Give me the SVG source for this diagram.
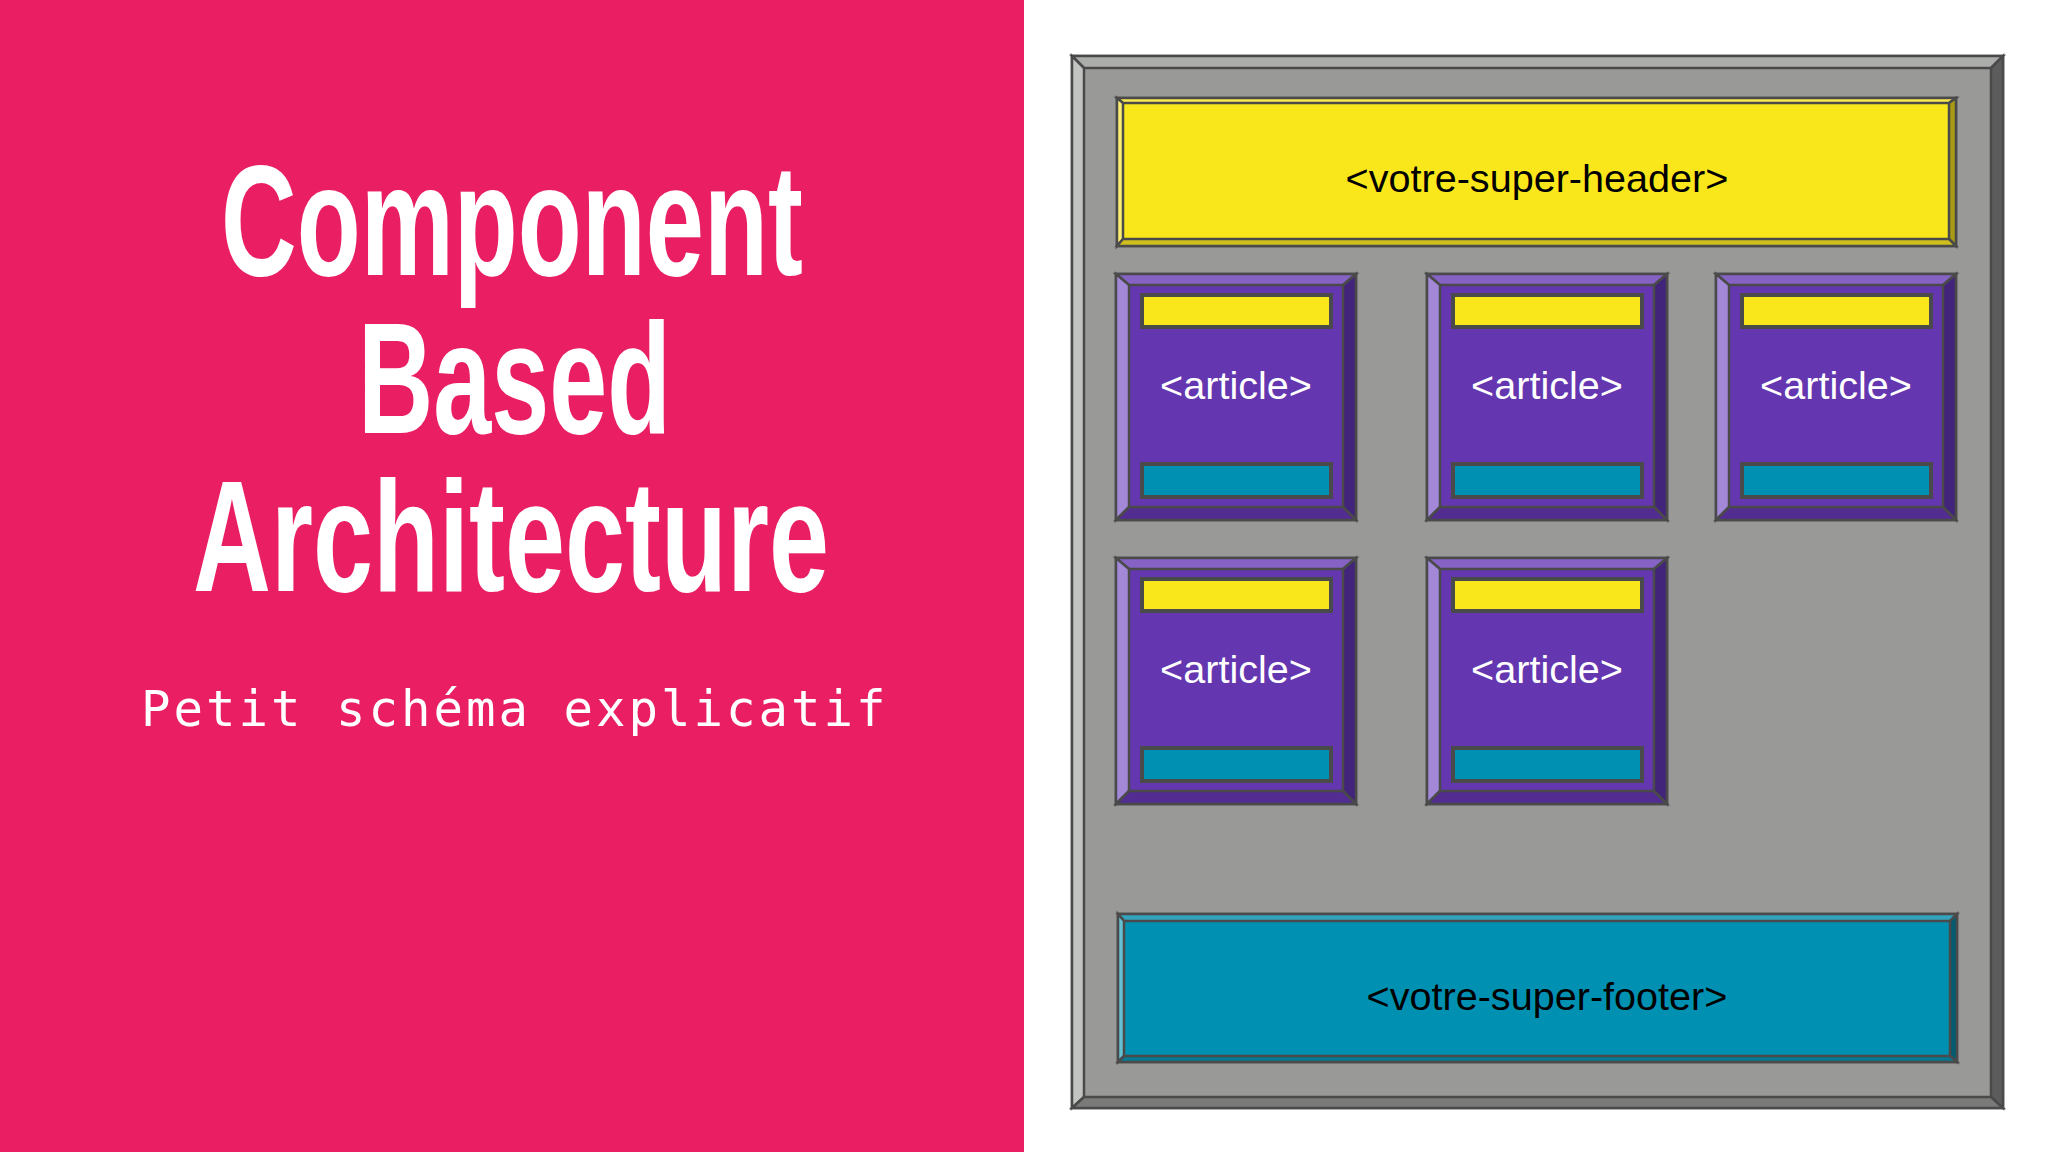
<svg xmlns="http://www.w3.org/2000/svg" xmlns:xlink="http://www.w3.org/1999/xlink" width="2048" height="1152" viewBox="0 0 2048 1152">
<defs>
<style>
.s{stroke:#4a4a4a;stroke-width:2.5;stroke-linejoin:miter}
.t{font-family:"Liberation Sans",Arial,sans-serif;font-weight:700;fill:#fff;font-size:157px}
.sub{font-family:"DejaVu Sans Mono","Liberation Mono",monospace;fill:#fff;font-size:49px;letter-spacing:3px}
.lb{font-family:"Liberation Sans",Arial,sans-serif;font-size:39.6px;text-anchor:middle}
.w{fill:#fff}
.k{fill:#000}
</style>
<g id="art">
<path class="s" fill="#6437b1" d="M0 0H240V246H0Z"/>
<path class="s" fill="#8562c4" d="M0 0H240L227 11H13Z"/>
<path class="s" fill="#a388d8" d="M0 0L13 11V233L0 246Z"/>
<path class="s" fill="#42247a" d="M240 0V246L227 233V11Z"/>
<path class="s" fill="#522c90" d="M0 246H240L227 233H13Z"/>
<rect x="26" y="21" width="189" height="32" fill="#fae71b" stroke="#4a4a4a" stroke-width="4"/>
<rect x="26" y="190" width="189" height="33" fill="#0090b2" stroke="#4a4a4a" stroke-width="4"/>
</g>
</defs>
<rect width="2048" height="1152" fill="#fff"/>
<rect id="panel" width="1024" height="1152" fill="#e91e63"/>
<g id="title">
<text class="t" x="221" y="275" textLength="582" lengthAdjust="spacingAndGlyphs">Component</text>
<text class="t" x="358" y="433" textLength="313" lengthAdjust="spacingAndGlyphs">Based</text>
<text class="t" x="193" y="591" textLength="636" lengthAdjust="spacingAndGlyphs">Architecture</text>
<text class="sub" x="141" y="726">Petit schéma explicatif</text>
</g>
<g id="page">
<path class="s" fill="#999a98" d="M1072 56H2003V1108H1072Z"/>
<path class="s" fill="#abadab" d="M1072 56H2003L1991 68H1084Z"/>
<path class="s" fill="#c2c4c2" d="M1072 56L1084 68V1097L1072 1108Z"/>
<path class="s" fill="#5c5c5c" d="M2003 56V1108L1991 1097V68Z"/>
<path class="s" fill="#7a7b79" d="M1072 1108H2003L1991 1097H1084Z"/>
</g>
<g id="header">
<path class="s" fill="#fae71b" d="M1117 98H1956V246H1117Z"/>
<path class="s" fill="#fbe950" d="M1117 98H1956L1949 103H1123Z"/>
<path class="s" fill="#fcee70" d="M1117 98L1123 103V239L1117 246Z"/>
<path class="s" fill="#a89a14" d="M1956 98V246L1949 239V103Z"/>
<path class="s" fill="#cfbf1e" d="M1117 246H1956L1949 239H1123Z"/>
<text class="lb k" x="1537" y="192">&lt;votre-super-header&gt;</text>
</g>
<g id="article-1"><use xlink:href="#art" href="#art" x="1116" y="274"/><text class="lb w" x="1236" y="399">&lt;article&gt;</text></g>
<g id="article-2"><use xlink:href="#art" href="#art" x="1427" y="274"/><text class="lb w" x="1547" y="399">&lt;article&gt;</text></g>
<g id="article-3"><use xlink:href="#art" href="#art" x="1716" y="274"/><text class="lb w" x="1836" y="399">&lt;article&gt;</text></g>
<g id="article-4"><use xlink:href="#art" href="#art" x="1116" y="558"/><text class="lb w" x="1236" y="683">&lt;article&gt;</text></g>
<g id="article-5"><use xlink:href="#art" href="#art" x="1427" y="558"/><text class="lb w" x="1547" y="683">&lt;article&gt;</text></g>
<g id="footer">
<path class="s" fill="#0090b2" d="M1118 914H1957V1062H1118Z"/>
<path class="s" fill="#33a3bd" d="M1118 914H1957L1950 921H1124Z"/>
<path class="s" fill="#66c0d3" d="M1118 914L1124 921V1056L1118 1062Z"/>
<path class="s" fill="#055a70" d="M1957 914V1062L1950 1056V921Z"/>
<path class="s" fill="#067891" d="M1118 1062H1957L1950 1056H1124Z"/>
<text class="lb k" x="1547" y="1010">&lt;votre-super-footer&gt;</text>
</g>
</svg>
